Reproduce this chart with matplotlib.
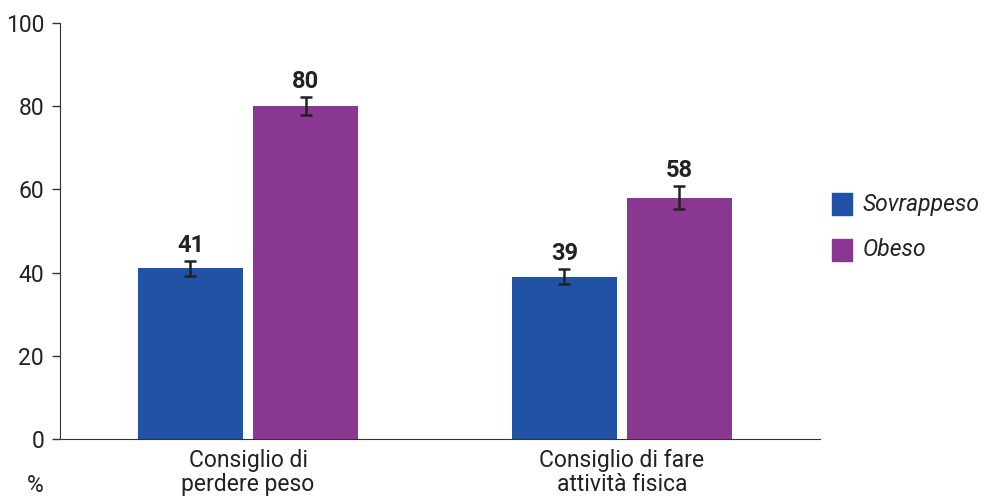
import matplotlib

matplotlib.use("Agg")
import matplotlib.pyplot as plt
from matplotlib.patches import Rectangle
import numpy as np

plt.rcParams["font.family"] = ["Roboto", "DejaVu Sans"]

CATEGORIES = ["Consiglio di\nperdere peso", "Consiglio di fare\nattività fisica"]
SERIES = ["Sovrappeso", "Obeso"]
SOVRAPPESO = [41, 39]
OBESO = [80, 58]
SOVRAPPESO_ERR = [1.8, 1.8]
OBESO_ERR = [2.2, 2.7]
Y_TICKS = [0, 20, 40, 60, 80, 100]

COLORS = {"Sovrappeso": "#2152A5", "Obeso": "#8A3791"}
TXT = "#222222"

fig = plt.figure(figsize=(9.87, 4.99), dpi=100)
ax = fig.add_axes([60 / 987, 60 / 499, 760 / 987, 416 / 499])

x = np.arange(len(CATEGORIES))
w = 0.28
off = 0.154

for vals, errs, name, sign in [
    (SOVRAPPESO, SOVRAPPESO_ERR, "Sovrappeso", -1),
    (OBESO, OBESO_ERR, "Obeso", 1),
]:
    pos = x + sign * off
    ax.bar(pos, vals, width=w, color=COLORS[name], label=name, zorder=2)
    ax.errorbar(pos, vals, yerr=errs, fmt="none", ecolor=TXT,
                elinewidth=1.8, capsize=4, capthick=1.8, zorder=3)
    for p, v, e in zip(pos, vals, errs):
        ax.text(p, v + e + 1.0, f"{v}", ha="center", va="bottom",
                fontsize=17, fontweight="bold", color=TXT)

ax.set_xlim(-0.503, 1.53)
ax.set_ylim(0, 100)
ax.set_yticks(Y_TICKS)
ax.tick_params(axis="y", labelsize=16.5, length=6, width=1, colors="#333333",
               labelcolor=TXT, pad=5.5)
ax.set_xticks(x)
ax.set_xticklabels(CATEGORIES, fontsize=16.5, color=TXT, linespacing=1.05)
ax.tick_params(axis="x", length=0, pad=7)
ax.spines[["top", "right"]].set_visible(False)
ax.spines[["left", "bottom"]].set_color("#333333")

fig.text(35 / 987, 1 - 486 / 499, "%", fontsize=16.5, ha="center",
         va="center", color=TXT)

# legend drawn by hand, to the right of the axes
for i, name in enumerate(SERIES):
    yc = 204 + i * 46
    fig.patches.append(Rectangle((832 / 987, 1 - (yc + 11) / 499), 20 / 987, 22 / 499,
                                 transform=fig.transFigure, color=COLORS[name]))
    fig.text(863 / 987, 1 - yc / 499, name, fontsize=16.5, style="italic",
             ha="left", va="center", color=TXT)

fig.savefig("out.png", dpi=100)
